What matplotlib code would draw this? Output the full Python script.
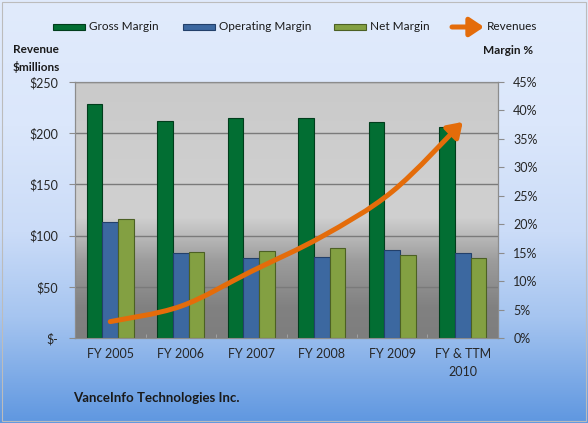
import numpy as np
import matplotlib
matplotlib.use("Agg")
import matplotlib.pyplot as plt
from matplotlib.colors import LinearSegmentedColormap
from matplotlib.patches import Rectangle, FancyArrowPatch
from matplotlib.path import Path

plt.rcParams['font.family'] = ['Lato', 'DejaVu Sans']

# data
years = ["FY 2005", "FY 2006", "FY 2007", "FY 2008", "FY 2009", "FY & TTM\n2010"]
gross_margin = [41.2, 38.2, 38.6, 38.7, 37.9, 37.1]
operating_margin = [20.4, 15.0, 14.1, 14.3, 15.5, 15.0]
net_margin = [21.0, 15.2, 15.3, 15.9, 14.6, 14.0]
revenues = [16, 31, 65, 99, 143, 211]

rev_ticks = [0, 50, 100, 150, 200, 250]
rev_labels = ["$-", "$50", "$100", "$150", "$200", "$250"]
pct_ticks = list(range(0, 50, 5))
pct_labels = [f"{p}%" for p in pct_ticks]

c_gross, c_op, c_net, c_rev = "#026e33", "#3c68a0", "#83a042", "#e46c0a"
e_gross, e_op, e_net = "#013d1c", "#23406a", "#4c6024"

W, H = 588, 423
fig = plt.figure(figsize=(W / 100, H / 100), dpi=100)

# figure background gradient
bg = fig.add_axes([0, 0, 1, 1])
bg_cmap = LinearSegmentedColormap.from_list(
    "bg", [(0, "#5f97e0"), (0.25, "#a6c5f0"), (0.45, "#cbdcf8"), (0.7, "#dbe7fb"), (1, "#e1ebfc")])
bg.imshow(np.linspace(1, 0, 256).reshape(-1, 1), cmap=bg_cmap, aspect="auto",
          extent=[0, 1, 0, 1], vmin=0, vmax=1)
bg.axis("off")
fig.add_artist(Rectangle((2 / W, 2 / H), 1 - 4 / W, 1 - 4 / H, transform=fig.transFigure,
                         fill=False, edgecolor="#bcbcbc", lw=0.8))

rect = [75 / W, 1 - 338 / H, 423 / W, 256 / H]

# plot area gradient
pbg = fig.add_axes(rect)
p_cmap = LinearSegmentedColormap.from_list(
    "p", [(0, "#7e7e7e"), (0.12, "#818181"), (0.3, "#9c9c9c"), (0.47, "#cfcfcf"),
          (0.55, "#d0d0d0"), (1, "#cacaca")])
pbg.imshow(np.linspace(1, 0, 256).reshape(-1, 1), cmap=p_cmap, aspect="auto",
           extent=[0, 1, 0, 1], vmin=0, vmax=1)
pbg.axis("off")

x = np.arange(len(years))

# revenue axis (left) with gridlines
ax = fig.add_axes(rect)
ax.set_facecolor("none")
ax.set_xlim(-0.5, len(years) - 0.5)
ax.set_ylim(0, 250)
ax.set_yticks(rev_ticks)
ax.set_yticklabels(rev_labels, fontsize=9, color="#262626")
ax.yaxis.grid(True, color="#7a7a7a", lw=1)
ax.set_xticks(x)
ax.set_xticklabels(years, fontsize=9, color="#262626", linespacing=1.6)
ax.set_xticks(np.arange(-0.5, len(years), 1), minor=True)
ax.tick_params(axis="x", which="major", length=0, pad=7)
ax.tick_params(axis="x", which="minor", direction="in", length=3, color="#a8a8a8")
ax.tick_params(axis="y", length=4, pad=8, color="#8c8c8c")
for s in ax.spines.values():
    s.set_color("#8c8c8c")

# margin axis (right) with bars
axb = ax.twinx()
axb.set_ylim(0, 45)
axb.set_yticks(pct_ticks)
axb.set_yticklabels(pct_labels, fontsize=9, color="#262626")
axb.tick_params(axis="y", length=4, pad=7, color="#8c8c8c")
for s in axb.spines.values():
    s.set_color("#8c8c8c")
w = 0.22
axb.bar(x - w, gross_margin, w, color=c_gross, edgecolor=e_gross, lw=0.8, label="Gross Margin")
axb.bar(x, operating_margin, w, color=c_op, edgecolor=e_op, lw=0.8, label="Operating Margin")
axb.bar(x + w, net_margin, w, color=c_net, edgecolor=e_net, lw=0.8, label="Net Margin")

# revenue curve on top
axl = ax.twinx()
axl.set_ylim(0, 250)
axl.axis("off")
pts = np.column_stack([x, revenues]).astype(float)
n = len(pts)
verts, codes = [pts[0]], [Path.MOVETO]
for i in range(n - 1):
    p_prev = pts[max(i - 1, 0)]
    p_next = pts[min(i + 2, n - 1)]
    verts += [pts[i] + (pts[i + 1] - p_prev) / 6, pts[i + 1] - (p_next - pts[i]) / 6, pts[i + 1]]
    codes += [Path.CURVE4] * 3
arrow = FancyArrowPatch(path=Path(verts, codes), arrowstyle="-|>,head_length=0.6,head_width=0.4",
                        mutation_scale=14, color=c_rev, lw=3.6, capstyle="round",
                        transform=axl.transData)
axl.add_patch(arrow)

# legend drawn by hand
def px(xp, yp):
    return xp / W, 1 - yp / H

ly = 27
for x0, col, ec, txt in [(53, c_gross, e_gross, "Gross Margin"),
                         (183, c_op, e_op, "Operating Margin"),
                         (334, c_net, e_net, "Net Margin")]:
    fig.add_artist(Rectangle(px(x0, ly + 3), 32 / W, 6 / H, transform=fig.transFigure,
                             facecolor=col, edgecolor=ec, lw=0.8))
    fig.text(*px(x0 + 36, ly), txt, fontsize=8.5, va="center", color="#1a1a1a")
fig.add_artist(FancyArrowPatch(px(452, ly), px(484, ly), transform=fig.transFigure,
                               arrowstyle="-|>,head_length=0.6,head_width=0.4", mutation_scale=14,
                               color=c_rev, lw=3.6, shrinkA=0, shrinkB=0, capstyle="round"))
fig.text(*px(487, ly), "Revenues", fontsize=8.5, va="center", color="#1a1a1a")

# axis titles and company name
fig.text(*px(13, 49), "Revenue", fontsize=8.5, fontweight="bold", va="center", color="#1a1a1a")
fig.text(*px(13, 67), "$millions", fontsize=8.5, fontweight="bold", va="center", color="#1a1a1a")
fig.text(*px(483, 50), "Margin %", fontsize=8.5, fontweight="bold", va="center", color="#1a1a1a")
fig.text(*px(73, 398), "VanceInfo Technologies Inc.", fontsize=9.5, fontweight="bold",
         va="center", color="#1a1a1a")

fig.savefig("out.png", dpi=100)
